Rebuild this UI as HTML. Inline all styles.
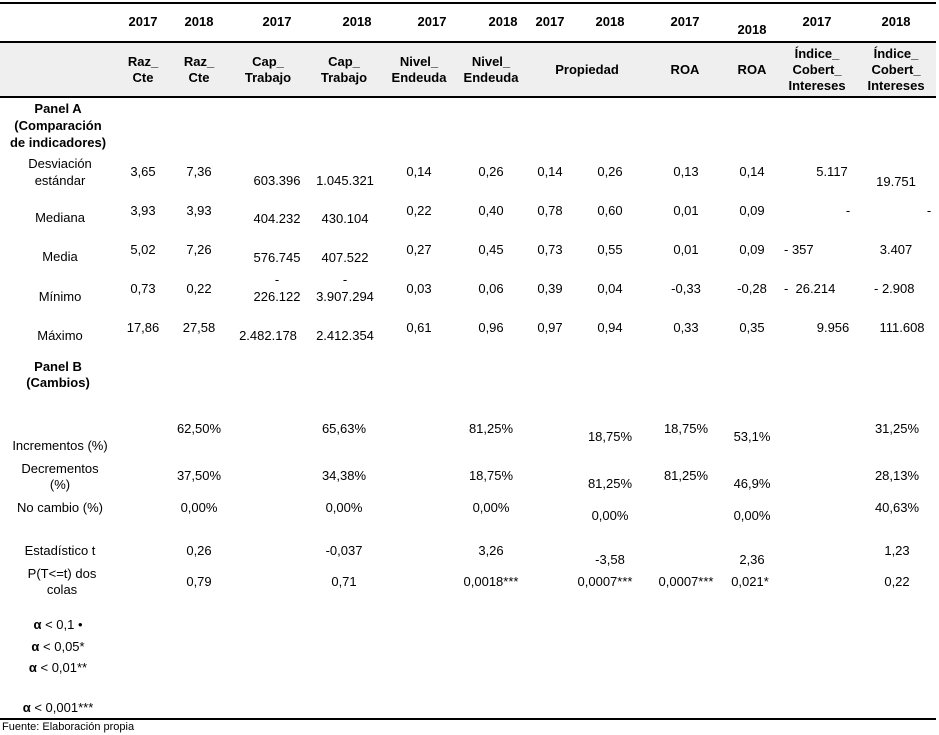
<!DOCTYPE html>
<html><head><meta charset="utf-8"><style>
body{margin:0;width:939px;height:722px;overflow:hidden;background:#fff;font-family:"Liberation Sans",Arial,sans-serif;font-size:13px;color:#000;position:relative}
.c,.l{position:absolute;white-space:nowrap;line-height:16px}
.c{transform:translateX(-50%);text-align:center}
.b{font-weight:bold}
.ln{position:absolute;left:0;height:1.5px;background:#000}
</style></head><body>
<div style="position:absolute;left:0;top:42px;width:936px;height:55px;background:#efefef"></div>
<div class="ln" style="top:2px;width:936px"></div>
<div class="ln" style="top:41px;width:936px"></div>
<div class="ln" style="top:96px;width:936px"></div>
<div class="ln" style="top:718px;width:936px"></div>

<div>
<div class="c b" style="left:143px;top:14px">2017</div>
<div class="c b" style="left:199px;top:14px">2018</div>
<div class="c b" style="left:277px;top:14px">2017</div>
<div class="c b" style="left:357px;top:14px">2018</div>
<div class="c b" style="left:432px;top:14px">2017</div>
<div class="c b" style="left:503px;top:14px">2018</div>
<div class="c b" style="left:550px;top:14px">2017</div>
<div class="c b" style="left:610px;top:14px">2018</div>
<div class="c b" style="left:685px;top:14px">2017</div>
<div class="c b" style="left:752px;top:22px">2018</div>
<div class="c b" style="left:817px;top:14px">2017</div>
<div class="c b" style="left:896px;top:14px">2018</div>
</div>
<div>
<div class="c b" style="left:143px;top:54px">Raz_<br>Cte</div>
<div class="c b" style="left:199px;top:54px">Raz_<br>Cte</div>
<div class="c b" style="left:268px;top:54px">Cap_<br>Trabajo</div>
<div class="c b" style="left:344px;top:54px">Cap_<br>Trabajo</div>
<div class="c b" style="left:419px;top:54px">Nivel_<br>Endeuda</div>
<div class="c b" style="left:491px;top:54px">Nivel_<br>Endeuda</div>
<div class="c b" style="left:587px;top:62px">Propiedad</div>
<div class="c b" style="left:685px;top:62px">ROA</div>
<div class="c b" style="left:752px;top:62px">ROA</div>
<div class="c b" style="left:817px;top:46px">Índice_<br>Cobert_<br>Intereses</div>
<div class="c b" style="left:896px;top:46px">Índice_<br>Cobert_<br>Intereses</div>
</div>

<div class="c b" style="left:58px;top:100px;line-height:17px">Panel A<br>(Comparación<br>de indicadores)</div>

<div>
<div class="c" style="left:60px;top:155px;line-height:17px">Desviación<br>estándar</div>
<div class="c" style="left:143px;top:164px">3,65</div><div class="c" style="left:199px;top:164px">7,36</div>
<div class="c" style="left:277px;top:173px">603.396</div><div class="c" style="left:345px;top:173px">1.045.321</div>
<div class="c" style="left:419px;top:164px">0,14</div><div class="c" style="left:491px;top:164px">0,26</div>
<div class="c" style="left:550px;top:164px">0,14</div><div class="c" style="left:610px;top:164px">0,26</div>
<div class="c" style="left:686px;top:164px">0,13</div><div class="c" style="left:752px;top:164px">0,14</div>
<div class="c" style="left:832px;top:164px">5.117</div><div class="c" style="left:896px;top:174px">19.751</div>
</div>
<div>
<div class="c" style="left:60px;top:210px">Mediana</div>
<div class="c" style="left:143px;top:203px">3,93</div><div class="c" style="left:199px;top:203px">3,93</div>
<div class="c" style="left:277px;top:211px">404.232</div><div class="c" style="left:345px;top:211px">430.104</div>
<div class="c" style="left:419px;top:203px">0,22</div><div class="c" style="left:491px;top:203px">0,40</div>
<div class="c" style="left:550px;top:203px">0,78</div><div class="c" style="left:610px;top:203px">0,60</div>
<div class="c" style="left:686px;top:203px">0,01</div><div class="c" style="left:752px;top:203px">0,09</div>
<div class="c" style="left:848px;top:203px">-</div><div class="c" style="left:929px;top:203px">-</div>
</div>
<div>
<div class="c" style="left:60px;top:249px">Media</div>
<div class="c" style="left:143px;top:242px">5,02</div><div class="c" style="left:199px;top:242px">7,26</div>
<div class="c" style="left:277px;top:250px">576.745</div><div class="c" style="left:345px;top:250px">407.522</div>
<div class="c" style="left:419px;top:242px">0,27</div><div class="c" style="left:491px;top:242px">0,45</div>
<div class="c" style="left:550px;top:242px">0,73</div><div class="c" style="left:610px;top:242px">0,55</div>
<div class="c" style="left:686px;top:242px">0,01</div><div class="c" style="left:752px;top:242px">0,09</div>
<div class="l" style="left:784px;top:242px">- 357</div><div class="c" style="left:896px;top:242px">3.407</div>
</div>
<div>
<div class="c" style="left:60px;top:289px">Mínimo</div>
<div class="c" style="left:143px;top:281px">0,73</div><div class="c" style="left:199px;top:281px">0,22</div>
<div class="c" style="left:277px;top:272px">-</div><div class="c" style="left:277px;top:289px">226.122</div>
<div class="c" style="left:345px;top:272px">-</div><div class="c" style="left:345px;top:289px">3.907.294</div>
<div class="c" style="left:419px;top:281px">0,03</div><div class="c" style="left:491px;top:281px">0,06</div>
<div class="c" style="left:550px;top:281px">0,39</div><div class="c" style="left:610px;top:281px">0,04</div>
<div class="c" style="left:686px;top:281px">-0,33</div><div class="c" style="left:752px;top:281px">-0,28</div>
<div class="l" style="left:784px;top:281px">-&nbsp; 26.214</div><div class="l" style="left:874px;top:281px">- 2.908</div>
</div>
<div>
<div class="c" style="left:60px;top:328px">Máximo</div>
<div class="c" style="left:143px;top:320px">17,86</div><div class="c" style="left:199px;top:320px">27,58</div>
<div class="c" style="left:268px;top:328px">2.482.178</div><div class="c" style="left:345px;top:328px">2.412.354</div>
<div class="c" style="left:419px;top:320px">0,61</div><div class="c" style="left:491px;top:320px">0,96</div>
<div class="c" style="left:550px;top:320px">0,97</div><div class="c" style="left:610px;top:320px">0,94</div>
<div class="c" style="left:686px;top:320px">0,33</div><div class="c" style="left:752px;top:320px">0,35</div>
<div class="c" style="left:833px;top:320px">9.956</div><div class="c" style="left:902px;top:320px">111.608</div>
</div>

<div class="c b" style="left:58px;top:359px">Panel B<br>(Cambios)</div>

<div>
<div class="c" style="left:60px;top:438px">Incrementos (%)</div>
<div class="c" style="left:199px;top:421px">62,50%</div><div class="c" style="left:344px;top:421px">65,63%</div>
<div class="c" style="left:491px;top:421px">81,25%</div><div class="c" style="left:610px;top:429px">18,75%</div>
<div class="c" style="left:686px;top:421px">18,75%</div><div class="c" style="left:752px;top:429px">53,1%</div>
<div class="c" style="left:897px;top:421px">31,25%</div>
</div>
<div>
<div class="c" style="left:60px;top:461px">Decrementos<br>(%)</div>
<div class="c" style="left:199px;top:468px">37,50%</div><div class="c" style="left:344px;top:468px">34,38%</div>
<div class="c" style="left:491px;top:468px">18,75%</div><div class="c" style="left:610px;top:476px">81,25%</div>
<div class="c" style="left:686px;top:468px">81,25%</div><div class="c" style="left:752px;top:476px">46,9%</div>
<div class="c" style="left:897px;top:468px">28,13%</div>
</div>
<div>
<div class="c" style="left:60px;top:500px">No cambio (%)</div>
<div class="c" style="left:199px;top:500px">0,00%</div><div class="c" style="left:344px;top:500px">0,00%</div>
<div class="c" style="left:491px;top:500px">0,00%</div><div class="c" style="left:610px;top:508px">0,00%</div>
<div class="c" style="left:752px;top:508px">0,00%</div><div class="c" style="left:897px;top:500px">40,63%</div>
</div>
<div>
<div class="c" style="left:60px;top:543px">Estadístico t</div>
<div class="c" style="left:199px;top:543px">0,26</div><div class="c" style="left:344px;top:543px">-0,037</div>
<div class="c" style="left:491px;top:543px">3,26</div><div class="c" style="left:610px;top:552px">-3,58</div>
<div class="c" style="left:752px;top:552px">2,36</div><div class="c" style="left:897px;top:543px">1,23</div>
</div>
<div>
<div class="c" style="left:62px;top:566px">P(T&lt;=t) dos<br>colas</div>
<div class="c" style="left:199px;top:574px">0,79</div><div class="c" style="left:344px;top:574px">0,71</div>
<div class="c" style="left:491px;top:574px">0,0018***</div><div class="c" style="left:605px;top:574px">0,0007***</div>
<div class="c" style="left:686px;top:574px">0,0007***</div><div class="c" style="left:750px;top:574px">0,021*</div>
<div class="c" style="left:897px;top:574px">0,22</div>
</div>
<div>
<div class="c" style="left:58px;top:617px"><b>α</b> &lt; 0,1 •</div>
<div class="c" style="left:58px;top:639px"><b>α</b> &lt; 0,05*</div>
<div class="c" style="left:58px;top:660px"><b>α</b> &lt; 0,01**</div>
<div class="c" style="left:58px;top:700px"><b>α</b> &lt; 0,001***</div>
</div>
<div class="l" style="left:2px;top:719px;font-size:11px">Fuente: Elaboración propia</div>
</body></html>
